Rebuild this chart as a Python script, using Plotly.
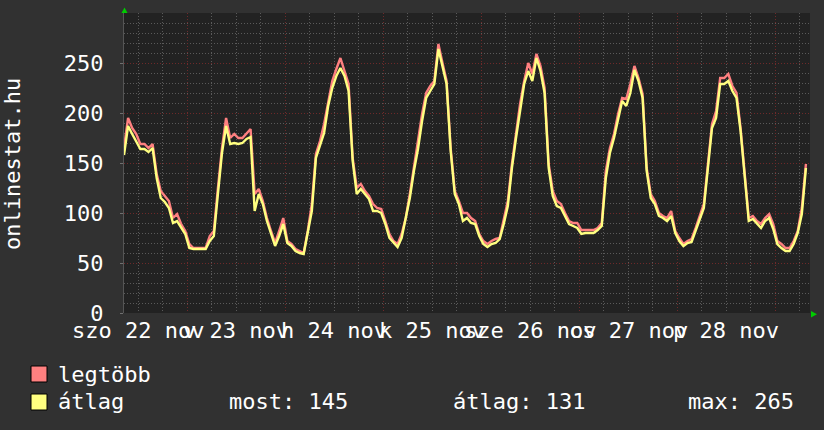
import pandas as pd
import plotly.graph_objects as go

# ---- data ----
start_time = "2008-11-22 08:30"
end_time = "2008-11-29 08:30"
first_midnight = "2008-11-23 00:00"

legtobb = [165, 195, 185, 179, 169, 169, 165, 169, 139, 122, 117, 112, 95, 99, 89, 82,
           69, 65, 65, 65, 65, 77, 82, 125, 165, 195, 175, 179, 175, 175, 180, 184,
           119, 124, 112, 95, 82, 70, 82, 95, 72, 69, 64, 62, 60, 82, 109, 159,
           172, 189, 212, 232, 244, 255, 242, 229, 155, 125, 129, 122, 117, 109, 105, 104,
           92, 79, 72, 69, 79, 95, 119, 145, 169, 199, 220, 227, 232, 269, 250, 232,
           165, 122, 112, 100, 100, 95, 92, 79, 72, 69, 72, 74, 75, 92, 112, 149,
           182, 209, 232, 250, 239, 259, 247, 225, 149, 122, 112, 109, 100, 92, 90, 90,
           83, 83, 83, 83, 85, 90, 142, 165, 179, 199, 215, 214, 229, 247, 235, 219,
           145, 119, 112, 100, 97, 95, 102, 82, 75, 69, 72, 74, 85, 97, 109, 149,
           189, 202, 235, 235, 239, 227, 220, 185, 139, 95, 97, 92, 89, 95, 99, 89,
           72, 69, 65, 65, 72, 82, 105, 149]

atlag = [158, 187, 179, 172, 164, 164, 161, 165, 135, 115, 111, 105, 90, 92, 85, 79,
         65, 64, 64, 64, 64, 72, 77, 119, 160, 187, 169, 170, 169, 170, 174, 176,
         102, 119, 109, 92, 79, 67, 77, 89, 70, 67, 62, 60, 59, 80, 102, 155,
         167, 180, 207, 225, 237, 245, 237, 222, 152, 119, 124, 119, 114, 102, 102, 100,
         89, 75, 70, 66, 75, 94, 115, 142, 164, 192, 215, 222, 229, 264, 247, 229,
         162, 119, 109, 92, 95, 90, 89, 77, 69, 66, 69, 70, 74, 89, 107, 145,
         175, 202, 229, 242, 232, 255, 242, 220, 145, 117, 107, 105, 97, 89, 87, 85,
         79, 80, 80, 80, 83, 87, 135, 160, 175, 192, 212, 207, 220, 243, 232, 215,
         142, 115, 109, 97, 95, 92, 97, 80, 72, 67, 70, 71, 82, 94, 105, 145,
         185, 195, 229, 229, 232, 222, 215, 182, 135, 92, 94, 89, 85, 92, 95, 84,
         69, 65, 62, 62, 69, 80, 99, 145]

times = pd.date_range(start_time, periods=len(atlag), freq="1h")

day_label_times = ["2008-11-22 12:00", "2008-11-23 12:00", "2008-11-24 12:00", "2008-11-25 12:00",
                   "2008-11-26 12:00", "2008-11-27 12:00", "2008-11-28 12:00"]
day_labels = ["szo 22 nov", "v 23 nov", "h 24 nov", "k 25 nov", "sze 26 nov", "cs 27 nov", "p 28 nov"]

y_ticks = [0, 50, 100, 150, 200, 250]
series_names = ["legtöbb", "átlag"]
stat_texts = ["most: 145", "átlag: 131", "max: 265"]
y_title = "onlinestat.hu"

# ---- style ----
W, H = 824, 430
L, R, T, B = 124, 810, 13, 313
FONT = "DejaVu Sans Mono"
FS = 22
BACK = "#313131"
CANVAS = "#222222"
PINK = "#ff8080"
YELLOW = "#ffff80"
WHITE = "#ffffff"


def px(x):
    return (x - L) / (R - L)


def py(y):
    return (B - y) / (B - T)


fig = go.Figure()
fig.add_trace(go.Scatter(x=times, y=legtobb, mode="lines", name=series_names[0],
                         line=dict(color=PINK, width=2.4)))
fig.add_trace(go.Scatter(x=times, y=atlag, mode="lines", name=series_names[1],
                         line=dict(color=YELLOW, width=2.4)))

annotations = []
for t, lab in zip(day_label_times, day_labels):
    annotations.append(dict(x=t, xref="x", y=py(330), yref="paper", text=lab, showarrow=False,
                            xanchor="center", yanchor="middle",
                            font=dict(family=FONT, size=FS, color=WHITE)))

annotations.append(dict(x=px(12), y=py(164), xref="paper", yref="paper", text=y_title,
                        textangle=-90, showarrow=False, xanchor="center", yanchor="middle",
                        font=dict(family=FONT, size=FS, color=WHITE)))

# legend texts
annotations.append(dict(x=px(56), y=py(374), xref="paper", yref="paper", text=series_names[0],
                        showarrow=False, xanchor="left", yanchor="middle",
                        font=dict(family=FONT, size=FS, color=WHITE)))
annotations.append(dict(x=px(56), y=py(401), xref="paper", yref="paper", text=series_names[1],
                        showarrow=False, xanchor="left", yanchor="middle",
                        font=dict(family=FONT, size=FS, color=WHITE)))
for xpos, txt in zip([227, 451, 686], stat_texts):
    annotations.append(dict(x=px(xpos), y=py(401), xref="paper", yref="paper", text=txt,
                            showarrow=False, xanchor="left", yanchor="middle",
                            font=dict(family=FONT, size=FS, color=WHITE)))

shapes = []
for (y0, y1, col) in [(366, 382, PINK), (394, 410, YELLOW)]:
    shapes.append(dict(type="rect", xref="paper", yref="paper",
                       x0=px(31), x1=px(47), y0=py(y1), y1=py(y0),
                       fillcolor=col, line=dict(color="#000000", width=1)))

# green arrows
shapes.append(dict(type="path", xref="paper", yref="paper",
                   path=f"M {px(121.5)} {py(13)} L {px(127.5)} {py(13)} L {px(124.5)} {py(7.5)} Z",
                   fillcolor="#00cc00", line=dict(width=0)))
shapes.append(dict(type="path", xref="paper", yref="paper",
                   path=f"M {px(811)} {py(311)} L {px(811)} {py(317.5)} L {px(817)} {py(314.2)} Z",
                   fillcolor="#00cc00", line=dict(width=0)))

fig.update_layout(
    width=W, height=H,
    margin=dict(l=L, r=W - R, t=T, b=H - B, pad=0, autoexpand=False),
    paper_bgcolor=BACK, plot_bgcolor=CANVAS,
    showlegend=False,
    hovermode=False,
    annotations=annotations,
    shapes=shapes,
    font=dict(family=FONT, size=FS, color=WHITE),
)

fig.update_xaxes(
    type="date", range=[start_time, end_time], automargin=False,
    tick0=first_midnight, dtick=86400000,
    showticklabels=False, ticks="",
    showgrid=True, gridcolor="#6e2a2a", griddash="1px,2px", gridwidth=1,
    minor=dict(tick0=first_midnight, dtick=6 * 3600000, showgrid=True,
               gridcolor="#5a5a5a", griddash="1px,2px", gridwidth=1),
    showline=False, zeroline=False,
)

fig.update_yaxes(
    range=[0, 300], tickvals=y_ticks, automargin=False,
    tickfont=dict(family=FONT, size=FS, color=WHITE),
    ticks="outside", ticklen=3, tickcolor="#707070",
    ticklabelstandoff=12,
    showgrid=True, gridcolor="#6e2a2a", griddash="1px,2px", gridwidth=1,
    minor=dict(dtick=10, showgrid=True, gridcolor="#5a5a5a", griddash="1px,2px", gridwidth=1),
    showline=True, linecolor="#555555", linewidth=1,
    zeroline=False,
)

fig.write_html("out.html",
               config={"displayModeBar": False, "staticPlot": True},
               post_script="document.body.style.margin='0px';document.body.style.padding='0px';"
                           "document.body.style.background='#313131';")
